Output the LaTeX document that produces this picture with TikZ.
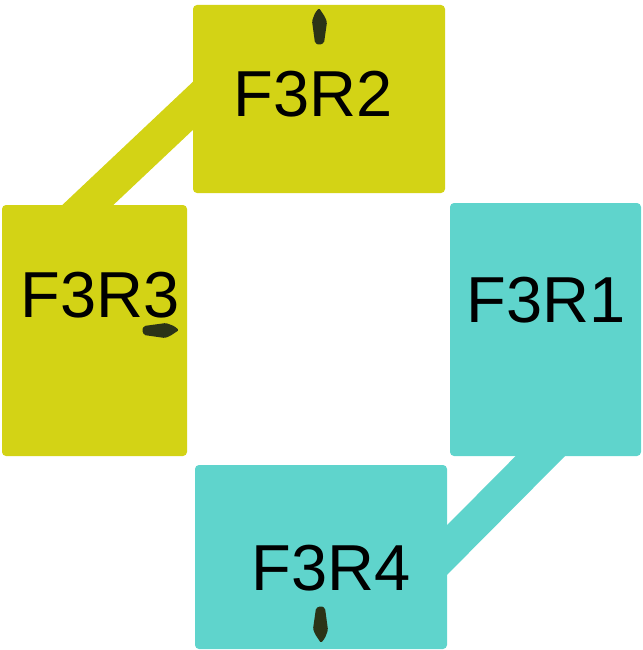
\documentclass[tikz,border=0pt]{standalone}
\usepackage{fontspec}
\setmainfont{Liberation Sans}
\definecolor{ryellow}{RGB}{211,211,21}
\definecolor{rcyan}{RGB}{95,212,204}
\definecolor{rdark}{RGB}{43,51,23}
\tikzset{pics/seed/.style={code={
    \fill[rdark, rounded corners=1.5pt] (0,0) -- (6,9) -- (8,14) -- (5,35) -- (0,37) -- (-4,35) -- (-7,13) -- (-4,5) -- cycle;
}}}

\begin{document}
\begin{tikzpicture}[x=1pt, y=-1pt,
        box/.style = {draw=none, rounded corners=4pt, inner sep=0pt},
        band/.style = {line width=35pt},
        lbl/.style = {anchor=base, font=\fontsize{65}{78}\selectfont}]
        \useasboundingbox (0,0) rectangle (642,650);
        \node[box, fill=ryellow, minimum width=252pt, minimum height=188pt] (r2) at (319,99) {};
        \node[box, fill=ryellow, minimum width=185pt, minimum height=251pt] (r3) at (94.5,330.5) {};
        \node[box, fill=rcyan, minimum width=191pt, minimum height=253pt] (r1) at (545.5,329.5) {};
        \node[box, fill=rcyan, minimum width=252pt, minimum height=184pt] (r4) at (321,557) {};
        \draw[band, ryellow] ([shift={(18,-10)}]r2.west) -- ([shift={(-24.5,17)}]r3.north);
        \draw[band, rcyan] ([shift={(12.5,-18)}]r1.south) -- ([shift={(-18,11)}]r4.east);
        \node[lbl] (t2) at (313,117) {F3R2};
        \node[lbl] (t3) at (100,317) {F3R3};
        \node[lbl] (t1) at (546,322) {F3R1};
        \node[lbl] (t4) at (331,590) {F3R4};
        \pic at (319,8) {seed};
        \pic[rotate=-90] at (179,330) {seed};
        \pic[rotate=180] at (321,643) {seed};
    \end{tikzpicture}
\end{document}
